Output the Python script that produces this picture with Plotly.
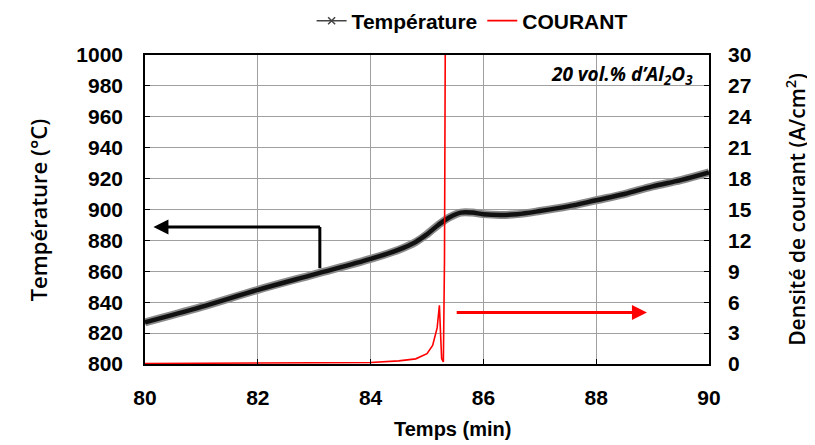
import plotly.graph_objects as go

# Temperature (°C) vs time (min)
temps_t = [80, 81, 82, 83, 84, 84.5, 84.8, 85.0, 85.2, 85.4, 85.6, 85.8, 86.0, 86.3,
           86.6, 87.0, 87.5, 88.0, 88.5, 89.0, 89.5, 90.0]
temperature = [827, 837, 848, 858, 868, 874, 879, 884, 890, 895, 898, 898, 897, 896.5,
               897, 899, 902, 906, 910, 915, 919, 924]

# Densité de courant (A/cm²) vs time (min)
courant_t = [80, 82, 84, 84.5, 84.8, 85.0, 85.1, 85.18, 85.22, 85.24, 85.26, 85.29, 85.31, 85.33]
courant = [0.05, 0.08, 0.15, 0.3, 0.5, 1.0, 1.8, 3.5, 5.7, 3.0, 0.5, 0.2, 10, 40]

fnt = "Liberation Sans, Arial, sans-serif"
tfnt = "Open Sans, sans-serif"

fig = go.Figure()
fig.add_trace(go.Scatter(
    x=temps_t, y=temperature, showlegend=False,
    mode="lines", line=dict(color="#8a8a8a", width=8, shape="spline"),
    hoverinfo="skip",
))
fig.add_trace(go.Scatter(
    x=temps_t, y=temperature, name="<b>Température</b>", showlegend=False,
    mode="lines", line=dict(color="#111", width=4.5, shape="spline"),
))
# legend entry: thin line with x marker
fig.add_trace(go.Scatter(
    x=[None], y=[None], name="<b>Température</b>",
    mode="lines+markers", line=dict(color="#444", width=1.5),
    marker=dict(symbol="x-thin", size=7, line=dict(color="#444", width=1.5)),
))
fig.add_trace(go.Scatter(
    x=courant_t, y=courant, name="<b>COURANT</b>", yaxis="y2",
    mode="lines", line=dict(color="#ff0000", width=1.6),
))

grid = "#a0a0a0"
# page body has an 8px margin, so the figure is a bit smaller than the window
fig.update_layout(
    width=807, height=437,
    margin=dict(l=137, r=106, t=47, b=81, autoexpand=False),
    plot_bgcolor="white", paper_bgcolor="white",
    font=dict(family=fnt, size=21, color="black"),
    showlegend=True,
    legend=dict(orientation="h", x=0.58, xanchor="center", y=1.11, yanchor="middle",
                font=dict(size=21, family=fnt), itemwidth=30, tracegroupgap=0,
                bgcolor="rgba(0,0,0,0)"),
    xaxis=dict(range=[80, 90], dtick=2, showgrid=True, gridcolor=grid, gridwidth=1,
               ticks="inside", ticklen=5, tickcolor="black", automargin=False,
               showline=True, linecolor="black", linewidth=1.5, mirror=True,
               tickfont=dict(size=21, family=fnt), zeroline=False, ticklabelstandoff=14,
               tickprefix="<b>", ticksuffix="</b>"),
    yaxis=dict(range=[800, 1000], dtick=20, showgrid=True, gridcolor=grid, gridwidth=1,
               ticks="inside", ticklen=5, tickcolor="black", automargin=False,
               showline=True, linecolor="black", linewidth=1.5, mirror=True,
               tickfont=dict(size=21, family=fnt), zeroline=False, ticklabelstandoff=16,
               tickprefix="<b>", ticksuffix="</b>"),
    yaxis2=dict(range=[0, 30], dtick=3, overlaying="y", side="right", showgrid=False,
                ticks="inside", ticklen=5, tickcolor="black", zeroline=False, automargin=False,
                tickfont=dict(size=21, family=fnt), ticklabelstandoff=18,
                tickprefix="<b>", ticksuffix="</b>"),
)

# axis titles
fig.add_annotation(x=0.545, y=-0.21, xref="paper", yref="paper",
                   text="<b>Temps (min)</b>", showarrow=False, yanchor="middle",
                   font=dict(size=20, family=fnt))
fig.add_annotation(x=-0.19, y=0.5, xref="paper", yref="paper", textangle=-90,
                   text="Température (°C)", showarrow=False, xanchor="center",
                   font=dict(size=22, family=tfnt, weight=600))
fig.add_annotation(x=1.153, y=0.5, xref="paper", yref="paper", textangle=-90,
                   text="Densité de courant (A/cm<sup>2</sup>)", showarrow=False, xanchor="center",
                   font=dict(size=21, family=tfnt, weight=600))

# Black arrow pointing to left axis
fig.add_shape(type="line", x0=83.1, x1=83.1, y0=862, y1=888.7, xref="x", yref="y",
              line=dict(color="black", width=3))
fig.add_annotation(x=80.15, y=888.7, ax=83.13, ay=888.7, xref="x", yref="y", axref="x", ayref="y",
                   showarrow=True, arrowhead=2, arrowsize=1, arrowwidth=3, arrowcolor="black", text="")
# Red arrow pointing to right axis
fig.add_annotation(x=88.9, y=5, ax=85.5, ay=5, xref="x", yref="y2", axref="x", ayref="y2",
                   showarrow=True, arrowhead=2, arrowsize=1, arrowwidth=3, arrowcolor="#ff0000", text="")

fig.add_annotation(x=89.75, y=987, xref="x", yref="y", xanchor="right", yanchor="middle",
                   showarrow=False, text="<b><i>20 vol.% d’Al<sub>2</sub>O<sub>3</sub></i></b>",
                   font=dict(size=19, family=tfnt, color="black"))

fig.write_html("out.html")
